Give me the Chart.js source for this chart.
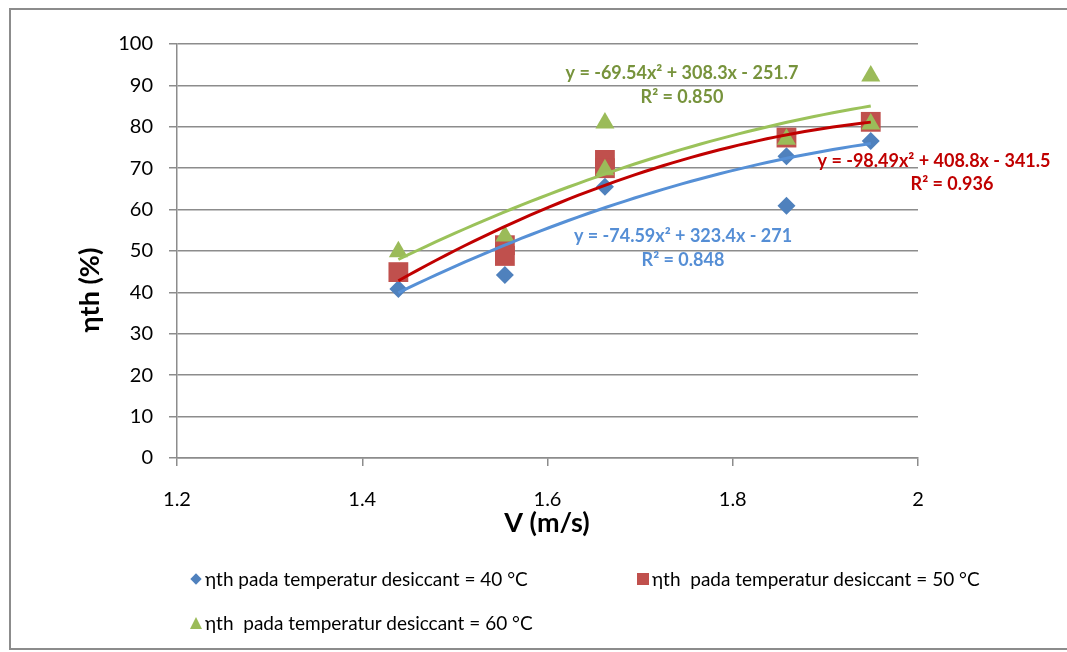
<!DOCTYPE html>
<html>
<head>
<meta charset="utf-8">
<script src="https://cdn.jsdelivr.net/npm/chart.js@4/dist/chart.umd.min.js"></script>
<style>
  body { margin: 0; background: #fff; overflow: hidden; font-family: Lato, sans-serif; }
  #wrap { position: relative; width: 1067px; height: 652px; overflow: hidden; }
  #frame { position: absolute; left: 9px; top: 8px; width: 1080px; height: 642px; border: 2px solid #8c8c8c; box-sizing: border-box; }
  canvas { position: absolute; left: 0; top: 0; }
  .lg { position: absolute; font-size: 19px; line-height: 20px; white-space: pre; color: #000; }
  .mk { position: absolute; }
</style>
</head>
<body>
<div id="wrap">
  <div id="frame"></div>
  <canvas id="myChart" width="1067" height="652"></canvas>

  <span class="mk" style="left:192px;top:575px;width:8px;height:8px;background:#4F81BD;transform:rotate(45deg)"></span>
  <div class="lg" style="left:205px;top:569px">ηth pada temperatur desiccant = 40 °C</div>

  <span class="mk" style="left:637px;top:573px;width:12px;height:12px;background:#C0504D"></span>
  <div class="lg" style="left:652px;top:569px">ηth  pada temperatur desiccant = 50 °C</div>

  <span class="mk" style="left:190px;top:617px;width:0;height:0;border-left:6px solid transparent;border-right:6px solid transparent;border-bottom:12px solid #9BBB59"></span>
  <div class="lg" style="left:205px;top:613px">ηth  pada temperatur desiccant = 60 °C</div>
</div>
<script>
  const v40 = [1.439, 1.554, 1.662, 1.858, 1.858, 1.949]
  const eta40 = [40.8, 44.2, 65.5, 72.9, 60.9, 76.6]

  const v50 = [1.439, 1.554, 1.554, 1.662, 1.662, 1.858, 1.949]
  const eta50 = [44.9, 51.4, 48.8, 72.0, 70.0, 77.4, 81.2]

  const v60 = [1.439, 1.554, 1.662, 1.662, 1.858, 1.949, 1.949]
  const eta60 = [49.8, 53.6, 80.9, 69.6, 77.0, 92.3, 80.7]

  // polynomial trendline coefficients (a, b, c) as printed on the chart
  const trend40 = [-74.59, 323.4, -271]
  const trend50 = [-98.49, 408.8, -341.5]
  const trend60 = [-69.54, 308.3, -251.7]

  const xTicks = [1.2, 1.4, 1.6, 1.8, 2]

  const toPoints = (xs, ys) => xs.map((x, i) => ({ x: x, y: ys[i] }))

  const trendCurve = (coef, xs) => {
    const lo = Math.min(...xs), hi = Math.max(...xs)
    const pts = []
    for (let i = 0; i <= 50; i++) {
      const x = lo + (hi - lo) * i / 50
      pts.push({ x: x, y: coef[0] * x * x + coef[1] * x + coef[2] })
    }
    return pts
  }

  const textPlugin = {
    id: 'textPlugin',
    afterDatasetsDraw(chart) {
      const c = chart.ctx
      c.save()
      c.textAlign = 'center'
      c.textBaseline = 'middle'
      c.font = 'bold 18px Lato'
      c.fillStyle = '#77933C'
      c.fillText('y = -69.54x² + 308.3x - 251.7', 682, 73)
      c.fillText('R² = 0.850', 682, 97)
      c.fillStyle = '#C00000'
      c.fillText('y = -98.49x² + 408.8x - 341.5', 934, 161)
      c.fillText('R² = 0.936', 952, 184)
      c.fillStyle = '#558ED5'
      c.fillText('y = -74.59x² + 323.4x - 271', 683, 236)
      c.fillText('R² = 0.848', 683, 260)

      c.fillStyle = '#000'
      c.font = 'bold 27px Lato'
      c.fillText('V (m/s)', 547, 523)
      c.translate(90, 290)
      c.rotate(-Math.PI / 2)
      c.fillText('ηth (%)', 0, 0)
      c.restore()
    }
  }

  const ctx = document.getElementById('myChart')

  new Chart(ctx, {
    type: 'scatter',
    data: {
      datasets: [
        { data: trendCurve(trend60, v60), showLine: true, borderColor: '#9BC25A', borderWidth: 3, pointRadius: 0, order: 0 },
        { data: trendCurve(trend50, v50), showLine: true, borderColor: '#C00000', borderWidth: 3, pointRadius: 0, order: 1 },
        { data: trendCurve(trend40, v40), showLine: true, borderColor: '#5690D6', borderWidth: 3, pointRadius: 0, order: 2 },
        { data: toPoints(v60, eta60), pointStyle: 'triangle', pointRadius: 11, backgroundColor: '#9BBB59', borderColor: '#9BBB59', borderWidth: 0, order: 3 },
        { data: toPoints(v50, eta50), pointStyle: 'rect', pointRadius: 14, backgroundColor: '#C0504D', borderColor: '#C0504D', borderWidth: 0, order: 4 },
        { data: toPoints(v40, eta40), pointStyle: 'rectRot', pointRadius: 9, backgroundColor: '#4F81BD', borderColor: '#4F81BD', borderWidth: 0, order: 5 }
      ]
    },
    options: {
      responsive: false,
      animation: false,
      devicePixelRatio: 1,
      layout: { padding: { top: 44, right: 149, bottom: 0, left: 0 } },
      plugins: { legend: { display: false }, tooltip: { enabled: false } },
      scales: {
        x: {
          min: 1.2,
          max: 2,
          afterFit: (s) => { s.height = 194 },
          afterBuildTicks: (s) => { s.ticks = xTicks.map(v => ({ value: v })) },
          grid: { drawOnChartArea: false, drawTicks: true, tickLength: 8, color: '#8c8c8c', lineWidth: 1.5 },
          border: { color: '#8c8c8c', width: 1.5 },
          ticks: { padding: 22, color: '#000', font: { family: 'Lato', size: 20 }, callback: (v) => String(v) }
        },
        y: {
          min: 0,
          max: 100,
          afterFit: (s) => { s.width = 177 },
          grid: { drawTicks: true, tickLength: 8, color: '#8c8c8c', lineWidth: 1.5 },
          border: { color: '#8c8c8c', width: 1.5 },
          ticks: { stepSize: 10, padding: 16, color: '#000', font: { family: 'Lato', size: 20 } }
        }
      }
    },
    plugins: [textPlugin]
  })
</script>
</body>
</html>
